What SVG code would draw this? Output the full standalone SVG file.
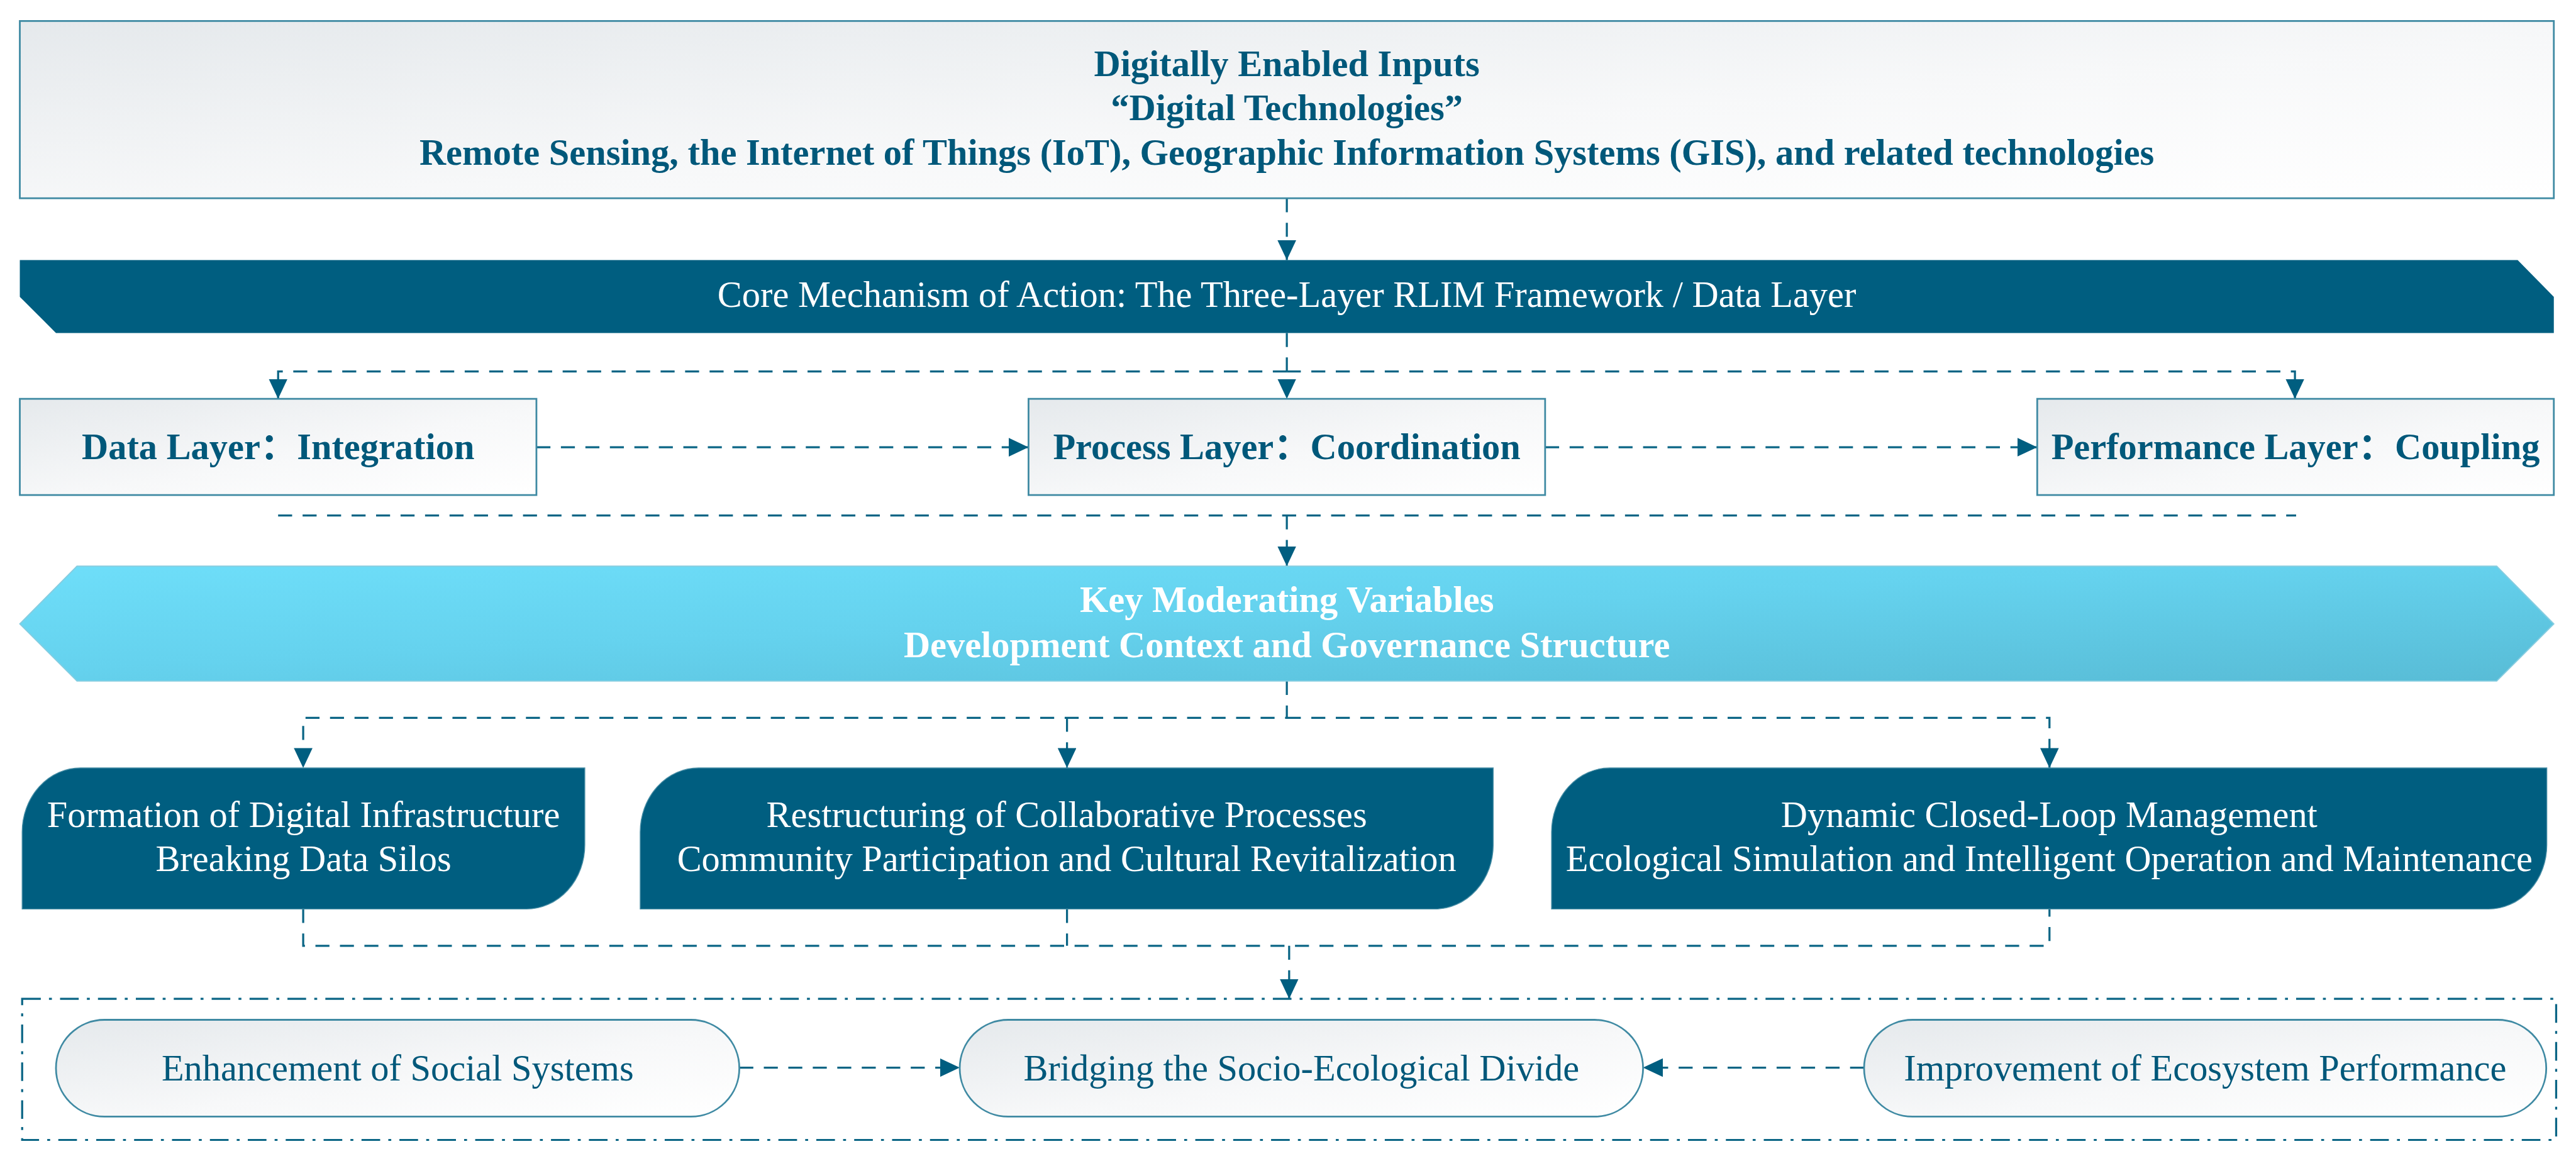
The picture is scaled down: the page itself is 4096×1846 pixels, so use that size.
<svg xmlns="http://www.w3.org/2000/svg" width="4096" height="1846" viewBox="0 0 4096 1846">
<defs>
<style>
.t{font-family:"Liberation Serif","Noto Sans CJK SC",serif;font-size:63px;text-anchor:middle}
.b{font-weight:bold}
.dk{fill:#00587A}
.wh{fill:#FFFFFF}
.box{fill:url(#gBox);stroke:#3F8AA3;stroke-width:3}
.dark{fill:#005E80;stroke:#4A8FA6;stroke-width:1.5}
.con{fill:none;stroke:#0A6585;stroke-width:3.5;stroke-dasharray:24 18}
.arr{marker-end:url(#ah)}
</style>
<linearGradient id="gBox" x1="0" y1="0" x2="1" y2="1">
<stop offset="0" stop-color="#E5E9EC"/>
<stop offset="0.55" stop-color="#F7F8F9"/>
<stop offset="1" stop-color="#FFFFFF"/>
</linearGradient>
<linearGradient id="gHex" x1="0" y1="0" x2="1" y2="1">
<stop offset="0" stop-color="#6EDEF9"/>
<stop offset="0.45" stop-color="#65D2EE"/>
<stop offset="1" stop-color="#58BCD6"/>
</linearGradient>
<marker id="ah" markerUnits="userSpaceOnUse" markerWidth="34" markerHeight="32" refX="34" refY="16" orient="auto">
<path d="M0,0 L34,16 L0,32 Z" fill="#005E80"/>
</marker>
</defs>
<rect width="4096" height="1846" fill="#FFFFFF"/>
<g transform="scale(0.92711)">
<g id="connectors">
<path class="con arr" d="M2207,340 V446"/>
<path class="con arr" d="M2207,571 V684"/>
<path class="con arr" d="M2207,637 H477 V684"/>
<path class="con arr" d="M2207,637 H3936 V684"/>
<path class="con arr" d="M920,767 H1764"/>
<path class="con arr" d="M2650,767 H3494"/>
<path class="con" d="M477,884 H3938"/>
<path class="con arr" d="M2207,884 V971"/>
<path class="con arr" d="M2207,1168 V1231 H520 V1317"/>
<path class="con arr" d="M1830,1231 V1317"/>
<path class="con arr" d="M2207,1231 H3515 V1317"/>
<path class="con" d="M520,1559 V1622 H3515 V1559"/>
<path class="con" d="M1830,1559 V1622"/>
<path class="con arr" d="M2211,1622 V1713"/>
<path class="con arr" d="M1268,1831 H1646"/>
<path class="con arr" d="M3197,1831 H2818"/>
</g>
<g id="inputs">
<rect class="box" x="34" y="36" width="4346" height="304"/>
<text class="t b dk" x="2207" y="130">Digitally Enabled Inputs</text>
<text class="t b dk" x="2207" y="206.5">“Digital Technologies”</text>
<text class="t b dk" x="2207" y="283">Remote Sensing, the Internet of Things (IoT), Geographic Information Systems (GIS), and related technologies</text>
</g>
<g id="core-banner">
<polygon points="34,446 4318,446 4380,509 4380,571 96,571 34,509" fill="#005E80"/>
<text class="t wh" x="2207" y="526">Core Mechanism of Action: The Three-Layer RLIM Framework / Data Layer</text>
</g>
<g id="data-layer">
<rect class="box" x="34" y="684" width="886" height="165"/>
<text class="t b dk" x="477" y="787">Data Layer：Integration</text>
</g>
<g id="process-layer">
<rect class="box" x="1764" y="684" width="886" height="165"/>
<text class="t b dk" x="2207" y="787">Process Layer：Coordination</text>
</g>
<g id="performance-layer">
<rect class="box" x="3494" y="684" width="886" height="165"/>
<text class="t b dk" x="3937" y="787">Performance Layer：Coupling</text>
</g>
<g id="moderating">
<polygon points="34,1070 132,971 4282,971 4380,1070 4282,1168 132,1168" fill="url(#gHex)" stroke="#86CDE0" stroke-width="2"/>
<text class="t b wh" x="2207" y="1049">Key Moderating Variables</text>
<text class="t b wh" x="2207" y="1127">Development Context and Governance Structure</text>
</g>
<g id="infrastructure">
<path class="dark" d="M38,1559 V1427 A100,110 0 0 1 138,1317 H1003 V1449 A100,110 0 0 1 903,1559 Z"/>
<text class="t wh" x="520.5" y="1418">Formation of Digital Infrastructure</text>
<text class="t wh" x="520.5" y="1494">Breaking Data Silos</text>
</g>
<g id="collaborative">
<path class="dark" d="M1098,1559 V1427 A100,110 0 0 1 1198,1317 H2561 V1449 A100,110 0 0 1 2461,1559 Z"/>
<text class="t wh" x="1829.5" y="1418">Restructuring of Collaborative Processes</text>
<text class="t wh" x="1829.5" y="1494">Community Participation and Cultural Revitalization</text>
</g>
<g id="closed-loop">
<path class="dark" d="M2661,1559 V1427 A100,110 0 0 1 2761,1317 H4368 V1449 A100,110 0 0 1 4268,1559 Z"/>
<text class="t wh" x="3514.5" y="1418">Dynamic Closed-Loop Management</text>
<text class="t wh" x="3514.5" y="1494">Ecological Simulation and Intelligent Operation and Maintenance</text>
</g>
<g id="outcomes">
<rect x="38" y="1713" width="4346" height="242" fill="none" stroke="#0A6585" stroke-width="3.5" stroke-dasharray="32 14 5 14"/>
</g>
<g id="social">
<rect class="box" x="96" y="1749" width="1172" height="166" rx="83" ry="83" stroke-width="2.5"/>
<text class="t dk" x="682" y="1853">Enhancement of Social Systems</text>
</g>
<g id="bridging">
<rect class="box" x="1646" y="1749" width="1172" height="166" rx="83" ry="83" stroke-width="2.5"/>
<text class="t dk" x="2232" y="1853">Bridging the Socio-Ecological Divide</text>
</g>
<g id="ecosystem">
<rect class="box" x="3197" y="1749" width="1170" height="166" rx="83" ry="83" stroke-width="2.5"/>
<text class="t dk" x="3782" y="1853">Improvement of Ecosystem Performance</text>
</g>
</g>
</svg>
